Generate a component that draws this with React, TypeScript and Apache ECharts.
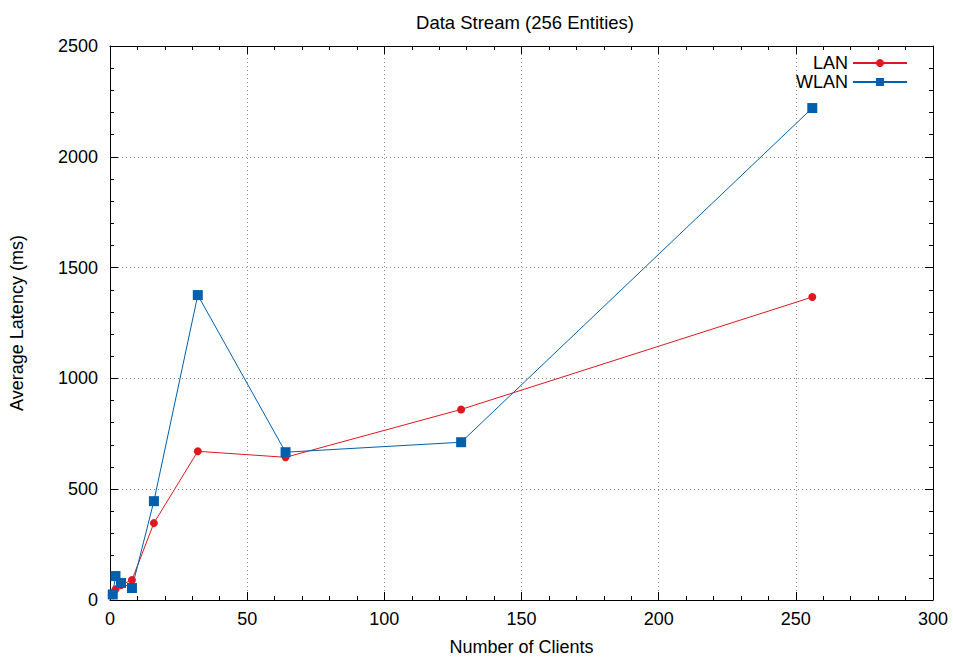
import React, { useEffect, useRef } from "react";
import * as echarts from "echarts";

const clients = [1, 2, 4, 8, 16, 32, 64, 128, 256];
const lanLatency = [22, 48, 68, 90, 347, 671, 644, 860, 1367];
const wlanLatency = [25, 108, 77, 54, 446, 1376, 667, 712, 2220];
const xTicks = [0, 50, 100, 150, 200, 250, 300];
const yTicks = [0, 500, 1000, 1500, 2000, 2500];

const FONT = "Liberation Sans, Arial, Helvetica, sans-serif";
const FS = 18;

export default function App() {
  const ref = useRef<HTMLDivElement>(null);
  useEffect(() => {
    if (!ref.current) return;
    const chart = echarts.init(ref.current, undefined, { renderer: "svg" });
    const axisCommon = {
      axisLine: { show: true, onZero: false, lineStyle: { color: "#000", width: 1 } },
      axisTick: { show: true, inside: true, length: 8, lineStyle: { color: "#000" } },
      minorTick: { show: true, splitNumber: 5, length: 4, lineStyle: { color: "#000" } },
    };
    chart.setOption({
      animation: false,
      backgroundColor: "#fff",
      textStyle: { fontFamily: FONT },
      title: {
        text: "Data Stream (256 Entities)",
        left: 520,
        textAlign: "center",
        top: 8,
        textStyle: { fontFamily: FONT, fontSize: 18.5, fontWeight: "normal", color: "#000" },
      },
      legend: {
        orient: "vertical",
        right: 40,
        top: 49,
        align: "right",
        itemWidth: 54,
        itemHeight: 10,
        itemGap: 1,
        textStyle: { fontFamily: FONT, fontSize: FS, color: "#000" },
        data: ["LAN", "WLAN"],
      },
      grid: { left: 110, right: 20, top: 46, bottom: 60 },
      xAxis: [
        {
          type: "value",
          min: xTicks[0],
          max: xTicks[xTicks.length - 1],
          interval: 50,
          name: "Number of Clients",
          nameLocation: "middle",
          nameGap: 38,
          nameTextStyle: { fontFamily: FONT, fontSize: FS, color: "#000" },
          axisLabel: { fontFamily: FONT, fontSize: FS, color: "#000", margin: 10 },
          splitLine: { show: true, lineStyle: { color: "#888", type: [1, 3], width: 1 } },
          ...axisCommon,
        },
        {
          type: "value",
          position: "top",
          min: xTicks[0],
          max: xTicks[xTicks.length - 1],
          interval: 50,
          axisLabel: { show: false },
          splitLine: { show: false },
          ...axisCommon,
        },
      ],
      yAxis: [
        {
          type: "value",
          min: yTicks[0],
          max: yTicks[yTicks.length - 1],
          interval: 500,
          name: "Average Latency (ms)",
          nameLocation: "middle",
          nameGap: 84,
          nameTextStyle: { fontFamily: FONT, fontSize: FS, color: "#000" },
          axisLabel: { fontFamily: FONT, fontSize: FS, color: "#000", margin: 12, formatter: (v: number) => String(v) },
          splitLine: { show: true, lineStyle: { color: "#888", type: [1, 3], width: 1 } },
          ...axisCommon,
        },
        {
          type: "value",
          position: "right",
          min: yTicks[0],
          max: yTicks[yTicks.length - 1],
          interval: 500,
          axisLabel: { show: false },
          splitLine: { show: false },
          ...axisCommon,
        },
      ],
      series: [
        {
          name: "LAN",
          type: "line",
          data: clients.map((c, i) => [c, lanLatency[i]]),
          symbol: "circle",
          symbolSize: 8,
          showAllSymbol: true,
          color: "#dd181f",
          lineStyle: { width: 1, color: "#dd181f" },
          itemStyle: { color: "#dd181f" },
        },
        {
          name: "WLAN",
          type: "line",
          data: clients.map((c, i) => [c, wlanLatency[i]]),
          symbol: "rect",
          symbolSize: 10,
          showAllSymbol: true,
          color: "#0060ad",
          lineStyle: { width: 1, color: "#0060ad" },
          itemStyle: { color: "#0060ad" },
        },
      ],
    });
    return () => chart.dispose();
  }, []);
  return <div ref={ref} style={{ width: 953, height: 661, position: "absolute", left: 0, top: 0 }} />;
}
